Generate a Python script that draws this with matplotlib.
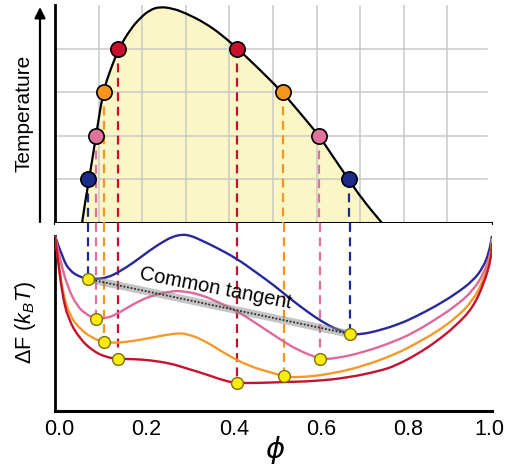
import matplotlib.pyplot as plt
from matplotlib.path import Path
from matplotlib.patches import PathPatch
from matplotlib.transforms import ScaledTranslation

plt.rcParams['font.family'] = ['Liberation Sans', 'DejaVu Sans']
plt.rcParams['mathtext.fontset'] = 'custom'
plt.rcParams['mathtext.rm'] = 'Liberation Sans'
plt.rcParams['mathtext.it'] = 'Liberation Sans:italic'

# binodal (phase boundary)
binodal_phi = [0.062, 0.069, 0.078, 0.094, 0.110, 0.128, 0.147, 0.172, 0.195, 0.218,
               0.241, 0.27, 0.298, 0.344, 0.383, 0.417, 0.459, 0.523, 0.562, 0.606,
               0.638, 0.674, 0.706, 0.750]
binodal_T = [0.0, 0.48, 0.99, 2.0, 3.01, 3.55, 4.02, 4.44, 4.71, 4.9,
             4.97, 4.93, 4.83, 4.6, 4.32, 4.02, 3.63, 2.99, 2.53, 2.0,
             1.52, 0.99, 0.53, 0.0]

# coexisting compositions at each temperature
temps = [1, 2, 3, 4]
phi_left = [0.076, 0.094, 0.112, 0.144]
phi_right = [0.674, 0.606, 0.523, 0.417]
F_left = [7.54, 5.26, 3.94, 2.97]
F_right = [4.4, 2.97, 2.0, 1.6]
colors = ['#1c2a8c', '#e0739c', '#f7941d', '#c8102e']
line_colors = ['#28289a', '#e0689a', '#f39a2a', '#c41230']

# free energy curves, one per temperature
blue_phi = [0, 0.018, 0.034, 0.057, 0.076, 0.096, 0.119, 0.142, 0.179, 0.218, 0.248,
            0.268, 0.291, 0.31, 0.328, 0.367, 0.417, 0.459, 0.5, 0.539, 0.578,
            0.612, 0.642, 0.674, 0.7, 0.745, 0.791, 0.826, 0.872, 0.917, 0.956,
            0.979, 0.993, 1.0]
blue_F = [10.0, 8.69, 8.0, 7.66, 7.54, 7.54, 7.62, 7.88, 8.46, 9.2, 9.68,
          9.95, 10.09, 10.02, 9.83, 9.37, 8.69, 7.94, 7.2, 6.4, 5.66,
          5.09, 4.69, 4.4, 4.37, 4.62, 5.0, 5.4, 6.0, 6.69, 7.43,
          8.17, 9.03, 10.0]
pink_phi = [0, 0.011, 0.028, 0.05, 0.073, 0.094, 0.119, 0.142, 0.179, 0.218, 0.264,
            0.291, 0.333, 0.367, 0.417, 0.459, 0.521, 0.555, 0.606, 0.64, 0.706,
            0.78, 0.826, 0.872, 0.917, 0.956, 0.982, 0.998, 1.0]
pink_F = [10.0, 8.69, 7.14, 6.0, 5.49, 5.26, 5.31, 5.54, 6.11, 6.57, 6.84,
          6.86, 6.65, 6.29, 5.71, 5.03, 4.0, 3.49, 2.97, 2.99, 3.35,
          4.0, 4.55, 5.25, 6.0, 6.86, 7.89, 9.03, 9.89]
orange_phi = [0, 0.007, 0.018, 0.034, 0.057, 0.085, 0.112, 0.142, 0.179, 0.218, 0.264,
              0.298, 0.344, 0.39, 0.443, 0.498, 0.523, 0.555, 0.631, 0.706, 0.78,
              0.826, 0.872, 0.917, 0.956, 0.982, 0.998, 1.0]
orange_F = [10.0, 8.69, 6.74, 5.43, 4.69, 4.17, 3.94, 3.89, 4.0, 4.17, 4.4,
            4.46, 4.0, 3.26, 2.57, 2.17, 2.0, 1.9, 2.11, 2.57, 3.25,
            3.85, 4.5, 5.31, 6.29, 7.54, 8.86, 9.83]
red_phi = [0, 0.005, 0.016, 0.03, 0.057, 0.087, 0.115, 0.144, 0.179, 0.218, 0.264,
           0.298, 0.344, 0.39, 0.417, 0.466, 0.528, 0.592, 0.67, 0.745, 0.78,
           0.826, 0.872, 0.917, 0.956, 0.982, 0.998, 1.0]
red_F = [10.0, 9.03, 6.74, 5.26, 4.11, 3.43, 3.09, 2.97, 2.97, 2.9, 2.72,
         2.46, 2.11, 1.71, 1.6, 1.6, 1.66, 1.7, 1.9, 2.3, 2.6,
         3.2, 3.95, 4.86, 5.89, 7.31, 8.69, 9.6]
curves_phi = [blue_phi, pink_phi, orange_phi, red_phi]
curves_F = [blue_F, pink_F, orange_F, red_F]

xticks = [0.0, 0.2, 0.4, 0.6, 0.8, 1.0]
xtick_labels = ['0.0', '0.2', '0.4', '0.6', '0.8', '1.0']


def smooth_path(xs, ys):
    # quadratic bezier through the read points (points act as control points)
    verts = [(xs[0], ys[0])]
    codes = [Path.MOVETO]
    for i in range(1, len(xs) - 1):
        mid = ((xs[i] + xs[i + 1]) / 2, (ys[i] + ys[i + 1]) / 2)
        verts += [(xs[i], ys[i]), mid]
        codes += [Path.CURVE3, Path.CURVE3]
    verts.append((xs[-1], ys[-1]))
    codes.append(Path.LINETO)
    return Path(verts, codes)


W, H = 506, 470
fig = plt.figure(figsize=(W / 100, H / 100), dpi=100)
ax1 = fig.add_axes([55 / W, 1 - 223 / H, 436 / W, 218 / H])
ax2 = fig.add_axes([55 / W, 1 - 411 / H, 437 / W, 188 / H])

# ---- top panel: phase diagram
T_top = 5.01
ax1.set_xlim(0, 1)
ax1.set_ylim(0, T_top)
ax1.add_patch(PathPatch(smooth_path(binodal_phi, binodal_T), fc='#fbf6c6',
                        ec='none', zorder=1))
for gx in [0.1, 0.2, 0.3, 0.4, 0.5, 0.6, 0.7, 0.8, 0.9]:
    ax1.axvline(gx, color='#c9c9c9', lw=1.1, zorder=2)
for gy in temps:
    ax1.plot([0, 0.99], [gy, gy], color='#c9c9c9', lw=1.1, zorder=2)
for i in range(4):
    for p in (phi_left[i], phi_right[i]):
        ax1.plot([p, p], [temps[i], 0], color=colors[i], lw=1.6,
                 ls=(0, (4, 2.5)), zorder=3)
ax1.add_patch(PathPatch(smooth_path(binodal_phi, binodal_T), fc='none',
                        ec='black', lw=1.6, zorder=4))
for i in range(4):
    ax1.plot([phi_left[i], phi_right[i]], [temps[i], temps[i]], ls='none',
             marker='o', ms=11, mfc=colors[i], mec='black', mew=1.2, zorder=5)
ax1.set_xticks([])
ax1.set_yticks([])
for s in ['top', 'right']:
    ax1.spines[s].set_visible(False)
ax1.spines['left'].set_linewidth(2)
ax1.spines['bottom'].set_linewidth(2.2)

# ---- bottom panel: free energy
F_top = 10.74
ax2.set_xlim(0, 1)
ax2.set_ylim(0, F_top)
for i in range(4):
    for p, f in ((phi_left[i], F_left[i]), (phi_right[i], F_right[i])):
        ax2.plot([p, p], [F_top, f], color=colors[i], lw=1.6,
                 ls=(0, (4, 2.5)), zorder=2, clip_on=False)
for i in range(4):
    ax2.add_patch(PathPatch(smooth_path(curves_phi[i], curves_F[i]), fc='none',
                            ec=line_colors[i], lw=1.7, zorder=3))

# common tangent (blue)
ax2.plot([phi_left[0], phi_right[0]], [F_left[0], F_right[0]], color='#8a8a8a',
         lw=5.5, alpha=0.5, solid_capstyle='butt', zorder=4)
ax2.plot([phi_left[0], phi_right[0]], [F_left[0], F_right[0]], color='#2a2a2a',
         lw=1.3, ls=(0, (1, 1)), zorder=4)
ax2.text(0.368, 6.98, 'Common tangent', fontsize=14.5, rotation=-11,
         rotation_mode='anchor', ha='center', va='center', zorder=6)

for i in range(4):
    ax2.plot([phi_left[i], phi_right[i]], [F_left[i], F_right[i]], ls='none',
             marker='o', ms=8.5, mfc='#fbec0c', mec='#7a6f10', mew=1, zorder=5)

ax2.set_yticks([])
ax2.set_xticks(xticks)
ax2.set_xticklabels(xtick_labels, fontsize=15.5)
ax2.tick_params(axis='x', length=0, pad=6)
labels = ax2.get_xticklabels()
for lab in labels[:-1]:
    lab.set_transform(lab.get_transform() + ScaledTranslation(4 / 100, 0, fig.dpi_scale_trans))
labels[-1].set_transform(labels[-1].get_transform() + ScaledTranslation(-3 / 100, 0, fig.dpi_scale_trans))
for s in ['top', 'right']:
    ax2.spines[s].set_visible(False)
ax2.spines['left'].set_bounds(0, 10)
ax2.spines['left'].set_linewidth(2)
ax2.spines['bottom'].set_linewidth(2.2)

# labels
fig.text(275 / W, 1 - 450 / H, '\u03d5', family='DejaVu Sans', style='italic',
         fontsize=21, ha='center', va='center')
fig.text(24 / W, 1 - 113 / H, 'Temperature', fontsize=15, rotation=90,
         ha='center', va='center')
fig.text(26 / W, 1 - 323 / H, r'$\Delta$F ($k_BT$)', fontsize=15.5, rotation=90,
         ha='center', va='center')
ax1.annotate('', xy=(40 / W, 1 - 7 / H), xytext=(40 / W, 1 - 222 / H),
             xycoords='figure fraction', textcoords='figure fraction',
             arrowprops=dict(arrowstyle='-|>', lw=1.6, color='black',
                             mutation_scale=16, shrinkA=0, shrinkB=0))

fig.savefig('out.png', dpi=100)
